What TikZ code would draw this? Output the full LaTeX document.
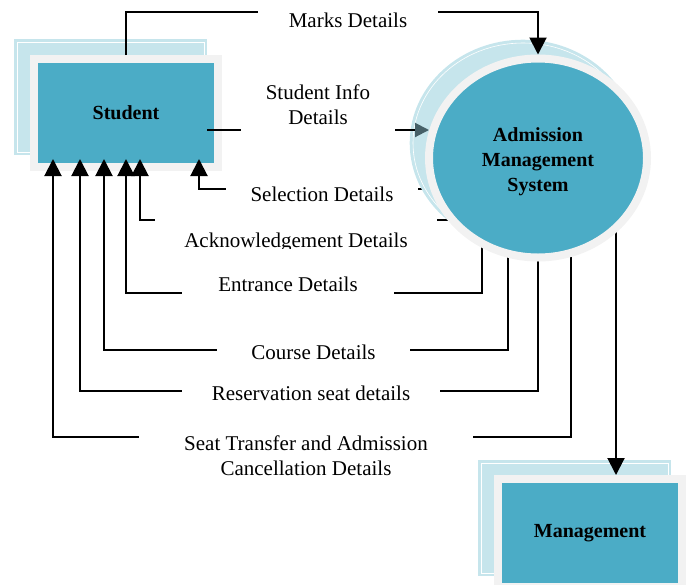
\documentclass[tikz,border=0pt]{standalone}
\usepackage{fontspec}
\setmainfont{Liberation Serif}
\usetikzlibrary{shapes.geometric,arrows.meta,positioning}

\definecolor{teal5}{RGB}{75,172,198}
\definecolor{shade5}{RGB}{198,229,236}
\definecolor{rim}{RGB}{242,242,242}
\definecolor{tipgray}{RGB}{70,96,104}

\pgfdeclarelayer{background}
\pgfdeclarelayer{foreground}
\pgfsetlayers{background,main,foreground}

\tikzset{
  ent/.style={rectangle, fill=teal5, draw=rim, line width=4pt,
    minimum width=92pt, minimum height=54pt, font=\bfseries},
  entshade/.style={rectangle, fill=shade5, draw=shade5, double=white,
    double distance=0.3pt, line width=1.5pt, minimum width=93.5pt, minimum height=55pt},
  proc/.style={ellipse, fill=teal5, draw=rim, line width=4pt, inner sep=0pt,
    minimum width=109pt, minimum height=99.5pt, align=center, font=\bfseries},
  procshade/.style={ellipse, fill=shade5, draw=shade5, double=white,
    double distance=0.3pt, line width=1.5pt, minimum width=110pt, minimum height=100pt},
  flow/.style={line width=1pt, -{Triangle[width=8.5pt,length=8.5pt]}},
  lbl/.style={fill=white, inner sep=0pt, align=center},
}

\begin{document}
\begin{tikzpicture}[x=0.5pt, y=-0.5pt, font=\fontsize{10.5}{12.5}\selectfont]
 \clip (0,0) rectangle (689,584);

 % external entities
 \begin{pgfonlayer}{background}
  \node[entshade] at (110.5,97) {};
  \node[ent] (stu) at (126,113) {Student};
  \node[entshade] at (574.5,518) {};
  \node[ent] (mgmt) at (590,533) {Management};
 \end{pgfonlayer}

 % process
 \node[procshade] at (523,143) {};
 \node[proc, text height=36pt, text depth=3pt] (ams) at (538,158) {Admission\\[0.5pt]Management\\[0.5pt]System};

 % flow labels
 \begin{pgfonlayer}{foreground}
  \node[lbl, minimum width=90pt, minimum height=11pt] (mk) at (348,20) {Marks Details};
  \node[lbl, minimum width=77pt, minimum height=29pt] (info) at (318,105) {Student Info\\Details};
  \node[lbl, minimum width=96pt, minimum height=11pt] (sel) at (322,194) {Selection Details};
  \node[lbl, minimum width=141pt, minimum height=24pt] (ack) at (296,242) {Acknowledgement Details};
  \node[lbl, minimum width=106pt, minimum height=35pt] (ent) at (288,284) {Entrance Details};
  \node[lbl, minimum width=96.5pt, minimum height=11pt] (crs) at (313.5,352) {Course Details};
  \node[lbl, minimum width=129pt, minimum height=11pt] (res) at (311,393) {Reservation seat details};
  \node[lbl, minimum width=167pt, minimum height=24pt] (sc) at (306,456) {Seat Transfer and Admission\\Cancellation Details};
 \end{pgfonlayer}

 % flows out of the process
 \begin{pgfonlayer}{background}
  \draw[flow] ([yshift=-15.5pt]ams.center) -- ([yshift=2.5pt]sel.center) -| ([xshift=36.5pt,yshift=6pt]stu.south);
  \draw[flow] ([yshift=-31pt]ams.center) -- ([yshift=11pt]ack.center) -| ([xshift=7pt,yshift=6pt]stu.south);
  \draw[flow] ([xshift=-28pt]ams.center) |- ([yshift=-4.5pt]ent.center) -| ([yshift=6pt]stu.south);
  \draw[flow] ([xshift=-15pt]ams.center) |- ([yshift=1pt]crs.center) -| ([xshift=-11pt,yshift=6pt]stu.south);
  \draw[flow] (ams.center) |- ([yshift=1pt]res.center) -| ([xshift=-23pt,yshift=6pt]stu.south);
  \draw[flow] ([xshift=16.5pt]ams.center) |- ([yshift=9.5pt]sc.center) -| ([xshift=-36.5pt,yshift=6pt]stu.south);
  \draw[flow] ([xshift=39pt]ams.center) -- ([xshift=13pt]mgmt.north);
 \end{pgfonlayer}

 % flows into the process
 \draw[flow] (stu.north) |- ([yshift=4pt]mk.center) -| (ams.north);
 \coordinate (si) at ([xshift=-7.5pt,yshift=-8.5pt]stu.east);
 \coordinate (sitip) at ([xshift=2pt]ams.west);
 \draw[line width=1pt, -{Triangle[width=7pt,length=7pt,color=tipgray]}] (si) -- (si -| sitip);
\end{tikzpicture}
\end{document}
